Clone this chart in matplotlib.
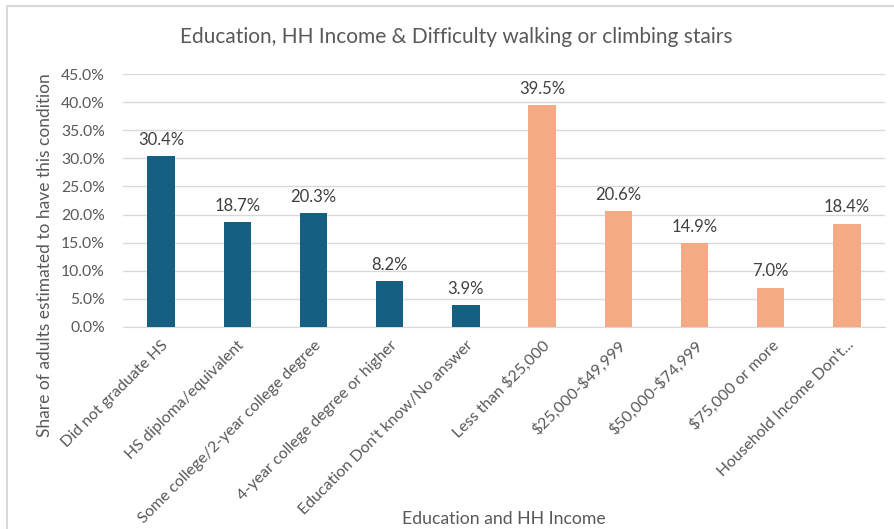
import matplotlib
matplotlib.use("Agg")
import matplotlib.pyplot as plt
from matplotlib.patches import Rectangle
from matplotlib.ticker import FuncFormatter, MultipleLocator

categories = ["Did not graduate HS", "HS diploma/equivalent", "Some college/2-year college degree",
              "4-year college degree or higher", "Education Don't know/No answer",
              "Less than $25,000", "$25,000-$49,999", "$50,000-$74,999", "$75,000 or more",
              "Household Income Don't..."]
values = [30.4, 18.7, 20.3, 8.2, 3.9, 39.5, 20.6, 14.9, 7.0, 18.4]
groups = ["edu"] * 5 + ["inc"] * 5
group_colors = {"edu": "#156082", "inc": "#F4AA84"}

plt.rcParams['font.family'] = ['Lato', 'DejaVu Sans']
plt.rcParams['text.parse_math'] = False
W, H = 895, 529
fig = plt.figure(figsize=(W / 100, H / 100), dpi=100)
fig.patch.set_facecolor("white")

# chart frame
fig.add_artist(Rectangle((7 / W, -0.1), 1.2, (H - 6) / H + 0.1, transform=fig.transFigure,
                         fill=False, edgecolor="#D9D9D9", linewidth=1.5))

ax = fig.add_axes([123 / W, (H - 327) / H, (885 - 123) / W, (327 - 74) / H])
x = list(range(len(categories)))
bars = ax.bar(x, values, width=0.36, color=[group_colors[g] for g in groups], zorder=3)
for xi, v in zip(x, values):
    ax.annotate(f"{v:.1f}%", (xi, v), xytext=(0, 6), textcoords="offset points",
                ha="center", va="bottom", fontsize=12, color="#404040")

ax.set_xlim(-0.5, len(categories) - 0.5)
ax.set_ylim(0, 45)
ax.yaxis.set_major_locator(MultipleLocator(5))
ax.yaxis.set_major_formatter(FuncFormatter(lambda v, p: f"{v:.1f}%"))
ax.grid(axis="y", color="#D9D9D9", linewidth=1, zorder=0)
for s in ["top", "right", "left"]:
    ax.spines[s].set_visible(False)
ax.spines["bottom"].set_color("#D9D9D9")
ax.tick_params(axis="y", length=0, labelsize=11.3, colors="#595959", pad=13)
ax.tick_params(axis="x", length=0, labelsize=11.5, colors="#595959", pad=8)
ax.set_xticks(x)
ax.set_xticklabels(categories, rotation=45, ha="right", rotation_mode="anchor")

fig.text(456 / W, 1 - 37 / H, "Education, HH Income & Difficulty walking or climbing stairs",
         ha="center", va="center", fontsize=15, color="#595959")
fig.text(45 / W, 1 - 255 / H, "Share of adults estimated to have this condition",
         rotation=90, ha="center", va="center", fontsize=12.5, color="#595959")
fig.text(504 / W, 1 - 519 / H, "Education and HH Income", ha="center", va="center",
         fontsize=12.7, color="#595959")

fig.savefig("out.png", dpi=100)
